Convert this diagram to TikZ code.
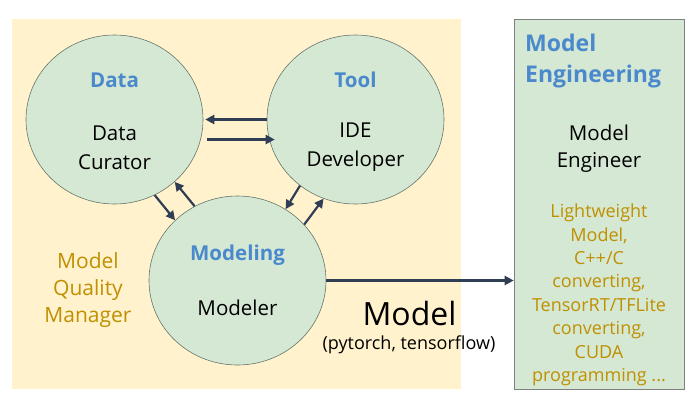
\documentclass[tikz,border=0pt]{standalone}
\usepackage{fontspec}
\setmainfont{Open Sans}
\usetikzlibrary{arrows.meta,shapes.geometric}
\definecolor{bgyellow}{HTML}{FFF2CC}
\definecolor{mint}{HTML}{D5E8D4}
\definecolor{titleblue}{HTML}{4A89CC}
\definecolor{gold}{HTML}{BF9000}
\definecolor{navy}{HTML}{2F3D55}
\definecolor{rim}{HTML}{66756A}
\tikzset{
  role/.style={ellipse, draw=rim, line width=0.6pt, fill=mint, minimum width=177pt, minimum height=169pt, inner sep=0pt},
  titletxt/.style={font=\fontsize{20.5}{24}\selectfont\bfseries, text=titleblue, inner sep=0pt},
  bodytxt/.style={font=\fontsize{20.5}{29}\selectfont, text=black, align=center, inner sep=0pt},
  goldtxt/.style={text=gold, align=center, inner sep=0pt},
  arr/.style={draw=navy, line width=2.2pt, -{Triangle[length=9pt,width=9pt]}}
}
\begin{document}
\begin{tikzpicture}[x=1pt,y=-1pt]
\useasboundingbox (0,0) rectangle (697,402);
\fill[white] (0,0) rectangle (697,402);
\fill[bgyellow] (12,19) rectangle (461,389);
\node[draw=gray, line width=0.6pt, fill=mint, minimum width=170pt, minimum height=370pt, inner sep=0pt] (box) at (599,204) {};

\node[role] (data) at (114.5,119.5) {};
\node[role] (tool) at (355.5,119.5) {};
\node[role] (modeling) at (237.5,280.5) {};

\node[titletxt] (datat) at (114.5,80) {Data};
\node[bodytxt] (datab) at (114.5,147.5) {Data\\Curator};
\node[titletxt] (toolt) at (355.5,80) {Tool};
\node[bodytxt] (toolb) at (355.5,147.5) {IDE\\Developer};
\node[titletxt] (modt) at (237.5,255) {Modeling};
\node[bodytxt] (modb) at (237.5,308) {Modeler};

\node[goldtxt, font=\fontsize{21}{27}\selectfont] (mqm) at (88,290) {Model\\Quality\\Manager};

\node[inner sep=0pt, font=\fontsize{32}{36}\selectfont] (model) at (409.5,313) {Model};
\node[inner sep=0pt, font=\fontsize{18}{22}\selectfont] (fw) at (409,345) {(pytorch, tensorflow)};

\node[titletxt, font=\fontsize{23}{31}\selectfont\bfseries, align=left, anchor=west] (met) at (525,61.5) {Model\\Engineering};
\node[bodytxt, font=\fontsize{20.5}{27}\selectfont] (meb) at (599,148.5) {Model\\Engineer};
\node[goldtxt, font=\fontsize{18}{23.4}\selectfont] (mel) at (599,295) {Lightweight\\Model,\\C++/C\\converting,\\TensorRT/TFLite\\converting,\\CUDA\\programming ...};

\draw[arr] (tool.180) -- ([xshift=2pt]data.0);
\draw[arr] ([xshift=4pt,yshift=-20pt]data.0) -- ([xshift=8pt,yshift=-20pt]tool.180);
\draw[arr] (data.-62) -- (modeling.136);
\draw[arr] (modeling.120) -- (data.-46);
\draw[arr] (tool.-130) -- (modeling.56);
\draw[arr] (modeling.40) -- (tool.-112);
\draw[arr] (modeling.east) -- (modeling.east -| box.west);
\end{tikzpicture}
\end{document}
